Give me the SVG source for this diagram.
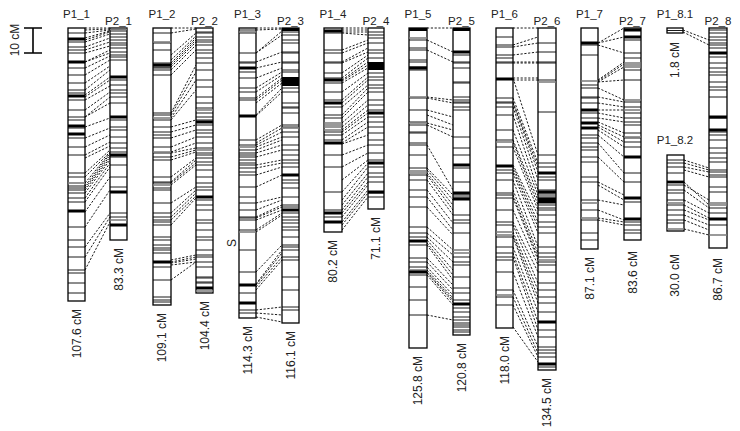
<svg xmlns="http://www.w3.org/2000/svg" width="740" height="431" viewBox="0 0 740 431">
<style>
.bar{fill:#fff;stroke:#000;stroke-width:1.3}
.t{fill:none;stroke:#000;stroke-width:0.9}
.g{fill:none;stroke:#7a7a7a;stroke-width:1.6}
.k{fill:none;stroke:#000;stroke-width:2.8}
.c{fill:none;stroke:#000;stroke-width:0.9;stroke-dasharray:2.2 1.6}
.lab{font-family:"Liberation Sans",Arial,sans-serif;font-size:11.5px;fill:#222;text-anchor:middle}
.rl{font-family:"Liberation Sans",Arial,sans-serif;font-size:12px;fill:#222;text-anchor:end}
</style>
<rect width="740" height="431" fill="#fff"/>
<g id="scale">
<path d="M24 28H42M33 28V53M24 53H42" fill="none" stroke="#000" stroke-width="1.6"/>
<text class="rl" style="text-anchor:middle" transform="translate(18.5 40) rotate(-90)">10 cM</text>
</g>
<g id="connectors">
<path class="c" d="M85 28L110 28M85 30L110 29M85 33L110 30M85 38L110 31M85 40L110 32M85 42L110 34M85 47L110 38M85 50L110 42M85 53L110 46M85 62L110 50M85 62L110 53M85 68L110 56M85 75L110 60M85 83L110 66M85 90L110 70M85 95L110 77M85 97L110 80M85 100L110 86M85 110L110 92M85 117L110 97M85 117L110 103M85 127L110 118M85 138L110 128M85 147L110 135M85 155L110 142M85 158L110 146M85 173L110 150M85 177L110 152M85 183L110 153M85 186L110 154M85 188L110 156M85 190L110 158M85 193L110 160M85 198L110 163M85 202L110 167M85 212L110 177M85 227L110 190M85 247L110 213M85 257L110 217M85 270L110 222"/>
<path class="c" d="M171 28L196 28M171 33L196 29M171 55L196 33M171 60L196 36M171 63L196 38M171 65L196 40M171 67L196 42M171 70L196 45M171 75L196 50M171 113L196 65M171 115L196 72M171 118L196 80M171 120L196 90M171 127L196 120M171 132L196 125M171 138L196 130M171 147L196 137M171 152L196 143M171 153L196 148M171 157L196 150M171 160L196 152M171 177L196 158M171 182L196 160M171 183L196 163M171 185L196 165M171 203L196 187M171 213L196 190M171 217L196 193M171 220L196 196M171 225L196 198M171 260L196 255M171 262L196 257M171 263L196 259M171 265L196 262M171 280L196 262"/>
<path class="c" d="M256 28L282 28M256 30L282 29M256 53L282 31M256 53L282 35M256 62L282 52M256 68L282 62M256 78L282 68M256 88L282 72M256 92L282 75M256 98L282 78M256 100L282 80M256 103L282 83M256 115L282 88M256 116L282 92M256 140L282 125M256 143L282 128M256 145L282 132M256 147L282 137M256 150L282 140M256 153L282 145M256 157L282 150M256 165L282 160M256 168L282 163M256 175L282 167M256 187L282 175M256 203L282 197M256 210L282 200M256 217L282 205M256 218L282 207M256 220L282 210M256 230L282 213M256 232L282 215M256 272L282 245M256 284L282 250M256 285L282 253M256 287L282 257M256 290L282 260M256 310L282 307M256 313L282 315M256 317L282 322"/>
<path class="c" d="M342 28L368 28M342 30L368 30M342 32L368 32M342 33L368 35M342 50L368 40M342 53L368 43M342 62L368 48M342 63L368 52M342 73L368 55M342 78L368 58M342 80L368 62M342 81L368 65M342 83L368 68M342 92L368 73M342 100L368 77M342 103L368 80M342 107L368 85M342 115L368 88M342 118L368 92M342 123L368 100M342 127L368 105M342 130L368 110M342 132L368 113M342 135L368 117M342 140L368 122M342 143L368 127M342 144L368 135M342 155L368 145M342 167L368 153M342 180L368 160M342 192L368 163M342 200L368 167M342 205L368 173M342 210L368 177M342 213L368 182M342 217L368 185M342 222L368 190M342 225L368 193M342 230L368 197"/>
<path class="c" d="M427 28L453 28M427 40L453 52M427 50L453 62M427 97L453 100M427 98L453 103M427 110L453 117M427 115L453 125M427 123L453 130M427 125L453 137M427 145L453 190M427 168L453 195M427 170L453 200M427 173L453 205M427 175L453 210M427 180L453 215M427 190L453 223M427 197L453 230M427 207L453 235M427 227L453 250M427 233L453 255M427 237L453 262M427 240L453 270M427 243L453 275M427 245L453 280M427 258L453 285M427 262L453 290M427 267L453 295M427 270L453 298M427 272L453 300M427 273L453 302M427 275L453 305M427 315L453 320"/>
<path class="c" d="M513 28L538 28M513 45L538 37M513 47L538 43M513 55L538 52M513 62L538 62M513 63L538 63M513 78L538 78M513 80L538 80M513 78L538 155M513 98L538 163M513 102L538 167M513 103L538 172M513 107L538 180M513 115L538 190M513 130L538 195M513 140L538 200M513 142L538 205M513 147L538 210M513 165L538 215M513 167L538 222M513 170L538 227M513 173L538 233M513 180L538 247M513 190L538 253M513 195L538 257M513 198L538 260M513 210L538 265M513 222L538 272M513 225L538 283M513 232L538 290M513 235L538 297M513 237L538 303M513 247L538 312M513 253L538 322M513 257L538 330M513 272L538 337M513 290L538 347M513 297L538 353M513 305L538 357M513 327L538 362"/>
<path class="c" d="M598 43L624 28M598 43L624 37M598 45L624 53M598 80L624 62M598 81L624 64M598 82L624 67M598 82L624 80M598 88L624 100M598 97L624 102M598 103L624 107M598 110L624 110M598 113L624 118M598 118L624 122M598 122L624 133M598 125L624 137M598 127L624 142M598 130L624 147M598 135L624 157M598 143L624 173M598 157L624 182M598 182L624 195M598 185L624 200M598 200L624 205M598 210L624 220M598 218L624 222M598 220L624 225"/>
<path class="c" d="M683 30L709 40M683 32L709 45M684 160L709 168M684 163L709 170M684 167L709 172M684 170L709 177M684 182L709 205M684 185L709 200M684 190L709 208M684 200L709 213M684 205L709 218M684 210L709 220M684 215L709 225M684 220L709 230M684 229L709 235"/>
</g>
<g id="P1_1">
<rect class="bar" x="68" y="28" width="17" height="273"/>
<path class="t" d="M68 33h17M68 42h17M68 47h17M68 50h17M68 53h17M68 68h17M68 75h17M68 83h17M68 90h17M68 93h17M68 100h17M68 110h17M68 117h17M68 120h17M68 128h17M68 138h17M68 147h17M68 155h17M68 173h17M68 177h17M68 186h17M68 188h17M68 190h17M68 193h17M68 198h17M68 202h17M68 227h17M68 240h17M68 247h17M68 257h17M68 270h17M68 273h17M68 283h17M68 293h17"/>
<path class="g" d="M68 183h17"/>
<path class="k" d="M68 39h17M68 62h17M68 96h17M68 126h17M68 134h17M68 211h17"/>
<text class="lab" x="76.5" y="18">P1_1</text>
<text class="rl" transform="translate(80.5 309) rotate(-90)">107.6 cM</text>
</g>
<g id="P2_1">
<rect class="bar" x="110" y="28" width="17" height="212"/>
<path class="t" d="M110 31h17M110 34h17M110 37h17M110 40h17M110 43h17M110 45h17M110 48h17M110 52h17M110 55h17M110 57h17M110 60h17M110 80h17M110 85h17M110 90h17M110 93h17M110 97h17M110 103h17M110 120h17M110 127h17M110 130h17M110 137h17M110 143h17M110 148h17M110 152h17M110 157h17M110 165h17M110 177h17M110 187h17M110 213h17M110 217h17"/>
<path class="g" d="M110 29.5h17M110 220h17"/>
<path class="k" d="M110 77h17M110 117h17M110 155h17M110 192h17M110 225h17"/>
<text class="lab" x="118.5" y="25">P2_1</text>
<text class="rl" transform="translate(122.5 248) rotate(-90)">83.3 cM</text>
</g>
<g id="P1_2">
<rect class="bar" x="153" y="28" width="18" height="277"/>
<path class="t" d="M153 33h18M153 43h18M153 50h18M153 63h18M153 67h18M153 68h18M153 70h18M153 75h18M153 113h18M153 115h18M153 120h18M153 127h18M153 132h18M153 135h18M153 138h18M153 147h18M153 153h18M153 157h18M153 160h18M153 177h18M153 182h18M153 183h18M153 188h18M153 190h18M153 203h18M153 213h18M153 217h18M153 220h18M153 222h18M153 225h18M153 237h18M153 240h18M153 245h18M153 248h18M153 250h18M153 253h18M153 267h18M153 280h18M153 297h18M153 300h18M153 302h18"/>
<path class="g" d="M153 42h18M153 118h18M153 152h18M153 185h18"/>
<path class="k" d="M153 65h18M153 262h18"/>
<text class="lab" x="162" y="18">P1_2</text>
<text class="rl" transform="translate(166 313) rotate(-90)">109.1 cM</text>
</g>
<g id="P2_2">
<rect class="bar" x="196" y="28" width="17" height="265"/>
<path class="t" d="M196 32h17M196 33h17M196 37h17M196 40h17M196 42h17M196 45h17M196 50h17M196 53h17M196 58h17M196 63h17M196 70h17M196 80h17M196 87h17M196 97h17M196 103h17M196 108h17M196 113h17M196 117h17M196 120h17M196 125h17M196 130h17M196 133h17M196 137h17M196 143h17M196 148h17M196 153h17M196 155h17M196 158h17M196 162h17M196 165h17M196 170h17M196 177h17M196 183h17M196 187h17M196 190h17M196 200h17M196 205h17M196 210h17M196 220h17M196 223h17M196 230h17M196 237h17M196 240h17M196 250h17M196 255h17M196 257h17M196 262h17M196 267h17M196 277h17M196 278h17M196 282h17M196 283h17"/>
<path class="g" d="M196 110h17M196 150h17M196 291h17"/>
<path class="k" d="M196 122h17M196 197h17M196 288h17"/>
<text class="lab" x="204.5" y="25">P2_2</text>
<text class="rl" transform="translate(208.5 301) rotate(-90)">104.4 cM</text>
</g>
<g id="P1_3">
<rect class="bar" x="239" y="28" width="17" height="290"/>
<path class="t" d="M239 30h17M239 33h17M239 53h17M239 62h17M239 63h17M239 72h17M239 78h17M239 88h17M239 92h17M239 98h17M239 100h17M239 140h17M239 145h17M239 150h17M239 153h17M239 155h17M239 157h17M239 160h17M239 163h17M239 165h17M239 168h17M239 172h17M239 175h17M239 187h17M239 197h17M239 203h17M239 210h17M239 217h17M239 218h17M239 220h17M239 230h17M239 250h17M239 272h17M239 293h17M239 310h17M239 313h17"/>
<path class="g" d="M239 32h17M239 147h17M239 232h17"/>
<path class="k" d="M239 68h17M239 116h17M239 285h17M239 303h17"/>
<text class="lab" x="247.5" y="18">P1_3</text>
<text class="rl" transform="translate(251.5 326) rotate(-90)">114.3 cM</text>
<text class="rl" style="text-anchor:middle" transform="translate(236 243) rotate(-90)">S</text>
</g>
<g id="P2_3">
<rect class="bar" x="282" y="28" width="17" height="295"/>
<rect x="282" y="77" width="17" height="9" fill="#000"/>
<path class="t" d="M282 32h17M282 35h17M282 40h17M282 43h17M282 52h17M282 53h17M282 62h17M282 63h17M282 70h17M282 72h17M282 88h17M282 92h17M282 103h17M282 107h17M282 108h17M282 113h17M282 125h17M282 127h17M282 132h17M282 137h17M282 145h17M282 150h17M282 155h17M282 160h17M282 163h17M282 167h17M282 180h17M282 183h17M282 188h17M282 197h17M282 205h17M282 207h17M282 213h17M282 217h17M282 220h17M282 223h17M282 227h17M282 230h17M282 237h17M282 245h17M282 247h17M282 250h17M282 257h17M282 260h17M282 277h17M282 290h17M282 307h17M282 310h17"/>
<path class="g" d="M282 128h17"/>
<path class="k" d="M282 29.5h17M282 175h17M282 210h17"/>
<text class="lab" x="290.5" y="25">P2_3</text>
<text class="rl" transform="translate(294.5 331) rotate(-90)">116.1 cM</text>
</g>
<g id="P1_4">
<rect class="bar" x="324" y="28" width="18" height="204"/>
<path class="t" d="M324 33h18M324 50h18M324 53h18M324 62h18M324 63h18M324 73h18M324 78h18M324 83h18M324 92h18M324 100h18M324 107h18M324 115h18M324 118h18M324 132h18M324 135h18M324 140h18M324 155h18M324 167h18M324 192h18M324 210h18M324 217h18"/>
<path class="g" d="M324 123h18M324 125h18M324 127h18M324 130h18"/>
<path class="k" d="M324 31h18M324 80h18M324 103h18M324 143h18M324 213h18M324 222h18"/>
<text class="lab" x="333" y="18">P1_4</text>
<text class="rl" transform="translate(337 240) rotate(-90)">80.2 cM</text>
</g>
<g id="P2_4">
<rect class="bar" x="368" y="28" width="16" height="181"/>
<rect x="368" y="62" width="16" height="8" fill="#000"/>
<path class="t" d="M368 32h16M368 35h16M368 38h16M368 43h16M368 50h16M368 53h16M368 58h16M368 73h16M368 77h16M368 80h16M368 85h16M368 88h16M368 92h16M368 100h16M368 105h16M368 110h16M368 117h16M368 122h16M368 127h16M368 133h16M368 140h16M368 145h16M368 153h16M368 160h16M368 167h16M368 173h16M368 177h16M368 182h16M368 193h16M368 197h16"/>
<path class="k" d="M368 113h16M368 163h16M368 192h16"/>
<text class="lab" x="376" y="25">P2_4</text>
<text class="rl" transform="translate(380 217) rotate(-90)">71.1 cM</text>
</g>
<g id="P1_5">
<rect class="bar" x="409" y="28" width="18" height="320"/>
<path class="t" d="M409 40h18M409 48h18M409 50h18M409 60h18M409 62h18M409 67h18M409 70h18M409 98h18M409 110h18M409 122h18M409 125h18M409 132h18M409 133h18M409 143h18M409 145h18M409 155h18M409 168h18M409 175h18M409 180h18M409 190h18M409 197h18M409 207h18M409 227h18M409 233h18M409 237h18M409 245h18M409 258h18M409 262h18M409 267h18M409 275h18M409 287h18M409 300h18M409 315h18"/>
<path class="g" d="M409 38h18M409 97h18M409 123h18M409 171h18M409 173h18M409 270h18"/>
<path class="k" d="M409 29.5h18M409 68h18M409 241h18M409 272h18"/>
<text class="lab" x="418" y="18">P1_5</text>
<text class="rl" transform="translate(422 356) rotate(-90)">125.8 cM</text>
</g>
<g id="P2_5">
<rect class="bar" x="453" y="28" width="17" height="307"/>
<path class="t" d="M453 55h17M453 62h17M453 63h17M453 68h17M453 82h17M453 83h17M453 97h17M453 100h17M453 102h17M453 103h17M453 107h17M453 110h17M453 137h17M453 148h17M453 155h17M453 168h17M453 182h17M453 195h17M453 197h17M453 215h17M453 220h17M453 223h17M453 233h17M453 257h17M453 262h17M453 265h17M453 277h17M453 288h17M453 293h17M453 300h17M453 308h17M453 312h17M453 317h17M453 320h17M453 323h17M453 325h17M453 327h17M453 330h17M453 332h17"/>
<path class="g" d="M453 250h17M453 253h17"/>
<path class="k" d="M453 29.5h17M453 52h17M453 165h17M453 193h17M453 199h17M453 304h17"/>
<text class="lab" x="461.5" y="25">P2_5</text>
<text class="rl" transform="translate(465.5 343) rotate(-90)">120.8 cM</text>
</g>
<g id="P1_6">
<rect class="bar" x="496" y="28" width="17" height="300"/>
<path class="t" d="M496 37h17M496 45h17M496 47h17M496 55h17M496 58h17M496 62h17M496 63h17M496 98h17M496 102h17M496 103h17M496 107h17M496 115h17M496 130h17M496 140h17M496 147h17M496 170h17M496 173h17M496 180h17M496 193h17M496 195h17M496 198h17M496 210h17M496 222h17M496 225h17M496 237h17M496 247h17M496 253h17M496 257h17M496 260h17M496 272h17M496 290h17M496 297h17M496 305h17"/>
<path class="g" d="M496 142h17M496 232h17M496 235h17M496 295h17"/>
<path class="k" d="M496 79h17M496 166h17"/>
<text class="lab" x="504.5" y="18">P1_6</text>
<text class="rl" transform="translate(508.5 336) rotate(-90)">118.0 cM</text>
</g>
<g id="P2_6">
<rect class="bar" x="538" y="28" width="18" height="342"/>
<path class="t" d="M538 43h18M538 52h18M538 62h18M538 63h18M538 80h18M538 112h18M538 155h18M538 163h18M538 167h18M538 177h18M538 180h18M538 190h18M538 193h18M538 195h18M538 197h18M538 200h18M538 205h18M538 208h18M538 210h18M538 215h18M538 222h18M538 227h18M538 233h18M538 247h18M538 253h18M538 257h18M538 262h18M538 265h18M538 272h18M538 283h18M538 290h18M538 297h18M538 303h18M538 312h18M538 330h18M538 337h18M538 347h18M538 350h18M538 353h18M538 357h18M538 367h18"/>
<path class="g" d="M538 82h18M538 260h18"/>
<path class="k" d="M538 173h18M538 192h18M538 199h18M538 202h18M538 322h18M538 364h18"/>
<text class="lab" x="547" y="25">P2_6</text>
<text class="rl" transform="translate(551 378) rotate(-90)">134.5 cM</text>
</g>
<g id="P1_7">
<rect class="bar" x="581" y="28" width="17" height="221"/>
<path class="t" d="M581 45h17M581 55h17M581 85h17M581 88h17M581 97h17M581 98h17M581 103h17M581 113h17M581 118h17M581 135h17M581 138h17M581 143h17M581 147h17M581 150h17M581 157h17M581 162h17M581 177h17M581 182h17M581 200h17M581 210h17M581 220h17M581 233h17M581 240h17"/>
<path class="g" d="M581 81h17M581 203h17M581 218h17"/>
<path class="k" d="M581 43h17M581 110h17M581 123h17M581 128h17"/>
<text class="lab" x="589.5" y="18">P1_7</text>
<text class="rl" transform="translate(593.5 257) rotate(-90)">87.1 cM</text>
</g>
<g id="P2_7">
<rect class="bar" x="624" y="28" width="17" height="212"/>
<path class="t" d="M624 40h17M624 53h17M624 58h17M624 70h17M624 80h17M624 102h17M624 107h17M624 113h17M624 118h17M624 122h17M624 125h17M624 133h17M624 138h17M624 142h17M624 147h17M624 173h17M624 182h17M624 202h17M624 222h17M624 225h17M624 230h17M624 233h17"/>
<path class="g" d="M624 63h17M624 65h17M624 67h17M624 100h17M624 110h17M624 137h17"/>
<path class="k" d="M624 30h17M624 37h17M624 157h17M624 198h17M624 219h17"/>
<text class="lab" x="632.5" y="25">P2_7</text>
<text class="rl" transform="translate(636.5 251) rotate(-90)">83.6 cM</text>
</g>
<g id="P1_8.1">
<rect class="bar" x="667" y="28" width="16" height="5"/>
<path class="t" d="M667 30.5h16"/>
<text class="lab" x="675" y="18">P1_8.1</text>
<text class="rl" transform="translate(679 42) rotate(-90)">1.8 cM</text>
</g>
<g id="P1_8.2">
<rect class="bar" x="667" y="155" width="17" height="76"/>
<path class="t" d="M667 160h17M667 163h17M667 167h17M667 173h17M667 185h17M667 190h17M667 193h17M667 200h17M667 205h17M667 210h17M667 215h17M667 220h17M667 223h17"/>
<path class="g" d="M667 203h17M667 229h17"/>
<path class="k" d="M667 182h17"/>
<text class="lab" x="675" y="144">P1_8.2</text>
<text class="rl" transform="translate(679 254) rotate(-90)">30.0 cM</text>
</g>
<g id="P2_8">
<rect class="bar" x="709" y="28" width="18" height="220"/>
<path class="t" d="M709 30h18M709 33h18M709 37h18M709 40h18M709 43h18M709 45h18M709 48h18M709 57h18M709 63h18M709 68h18M709 72h18M709 75h18M709 82h18M709 87h18M709 90h18M709 97h18M709 118h18M709 132h18M709 135h18M709 140h18M709 148h18M709 153h18M709 158h18M709 162h18M709 170h18M709 172h18M709 175h18M709 177h18M709 187h18M709 192h18M709 208h18M709 213h18M709 225h18"/>
<path class="g" d="M709 203h18M709 205h18M709 235h18"/>
<path class="k" d="M709 53h18M709 117h18M709 130h18M709 219h18"/>
<text class="lab" x="718" y="25">P2_8</text>
<text class="rl" transform="translate(722 258) rotate(-90)">86.7 cM</text>
</g>
</svg>
